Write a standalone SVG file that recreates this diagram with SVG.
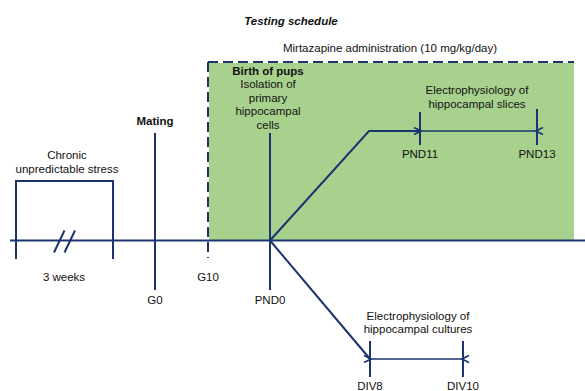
<svg xmlns="http://www.w3.org/2000/svg" width="585" height="391" viewBox="0 0 585 391">
<style>
text{font-family:"Liberation Sans",Arial,sans-serif;font-size:11.5px;fill:#111;text-anchor:middle}
.b{font-weight:bold}
.ln{stroke:#1b3470;stroke-width:2;fill:none}
.ar{stroke:#1b3470;stroke-width:1.6;fill:none}
.dash{stroke:#1b3470;stroke-width:2;fill:none;stroke-dasharray:10,5}
</style>
<defs>
<marker id="ah" viewBox="0 0 10 10" refX="1" refY="5" markerWidth="10" markerHeight="10" orient="auto-start-reverse" markerUnits="userSpaceOnUse">
<path d="M8,1.5 L1,5 L8,8.5" fill="none" stroke="#1b3470" stroke-width="1.6"/>
</marker>
</defs>
<rect width="585" height="391" fill="#fff"/>
<text x="291" y="25" class="b" font-style="italic">Testing schedule</text>
<g id="mirtazapine">
<rect x="209" y="63" width="365" height="177" fill="#a9d18e"/>
<path class="dash" d="M208,62 H574"/>
<path class="dash" d="M208,62 V258"/>
<text x="390" y="52">Mirtazapine administration (10 mg/kg/day)</text>
</g>
<g id="timeline">
<path class="ln" d="M10,240.5 H585"/>
<path class="ln" d="M54,252.5 L64.5,230.5 M64.5,252.5 L75,230.5" stroke-width="1.8"/>
</g>
<g id="stress">
<path class="ln" d="M16,259 V181 H113 V259"/>
<text x="67" y="159">Chronic</text>
<text x="67" y="173">unpredictable stress</text>
<text x="64" y="281">3 weeks</text>
</g>
<g id="mating">
<path class="ln" d="M155,133 V290"/>
<text x="155" y="125" class="b">Mating</text>
<text x="155" y="304">G0</text>
</g>
<g id="g10">
<text x="208" y="281">G10</text>
</g>
<g id="birth">
<path class="ln" d="M270,133 V290"/>
<text x="268" y="75" class="b">Birth of pups</text>
<text x="268" y="88">Isolation of</text>
<text x="268" y="102">primary</text>
<text x="268" y="115">hippocampal</text>
<text x="268" y="129">cells</text>
<text x="270" y="304">PND0</text>
</g>
<g id="slices">
<path class="ln" d="M420,112 V145 M537,109 V145"/>
<text x="477" y="94">Electrophysiology of</text>
<text x="477" y="108">hippocampal slices</text>
<text x="420" y="158">PND11</text>
<text x="537" y="158">PND13</text>
</g>
<g id="cultures">
<path class="ln" d="M370,341 V377 M463,341 V377"/>
<text x="418" y="320">Electrophysiology of</text>
<text x="418" y="333">hippocampal cultures</text>
<text x="370" y="390">DIV8</text>
<text x="463" y="390">DIV10</text>
</g>
<g id="connectors">
<path class="ln" d="M270,240.5 L369,131 H420"/>
<path class="ar" d="M421,131 H536" marker-start="url(#ah)" marker-end="url(#ah)"/>
<path class="ln" d="M270,240.5 L370,359"/>
<path class="ar" d="M371,359 H462" marker-start="url(#ah)" marker-end="url(#ah)"/>
</g>
</svg>
